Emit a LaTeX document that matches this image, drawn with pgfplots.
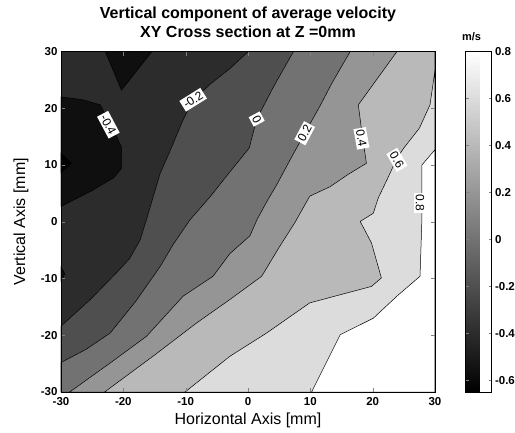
\documentclass[border=0pt]{standalone}
\usepackage{fontspec}
\setmainfont{Liberation Sans}
\usepackage{pgfplots}
\pgfplotsset{compat=1.18}
\definecolor{lv0}{gray}{0.0}
\definecolor{lv1}{gray}{0.06}
\definecolor{lv2}{gray}{0.172}
\definecolor{lv3}{gray}{0.31}
\definecolor{lv4}{gray}{0.448}
\definecolor{lv5}{gray}{0.586}
\definecolor{lv6}{gray}{0.724}
\definecolor{lv7}{gray}{0.862}
\definecolor{lv8}{gray}{1.0}
\tikzset{lab/.style={fill=white, inner sep=2pt, font=\fontsize{12}{14}\selectfont}}
\begin{document}
\begin{tikzpicture}
\begin{axis}[name=main, scale only axis, width=374pt, height=340.5pt,
  xmin=-30, xmax=30, ymin=-30, ymax=30,
  xtick={-30,-20,-10,0,10,20,30}, ytick={-30,-20,-10,0,10,20,30},
  tick align=inside, major tick length=4pt,
  axis on top, axis background/.style={fill=lv2},
  /pgf/number format/assume math mode=true,
  tick label style={font=\bfseries\fontsize{11.5}{13}\selectfont},
  xticklabel style={yshift=-2pt},
  title={Vertical component of average velocity\\XY Cross section at Z =0mm},
  title style={align=center, font=\bfseries\fontsize{16}{19}\selectfont, at={(0.5,1)}, anchor=south, inner sep=0pt, yshift=8pt},
  xlabel={Horizontal Axis [mm]},
  xlabel style={font=\fontsize{16}{19}\selectfont, at={(axis description cs:0.5,-0.084)}, anchor=center},
  ylabel={Vertical Axis [mm]},
  ylabel style={font=\fontsize{16}{19}\selectfont, at={(axis description cs:-0.107,0.5)}, anchor=center},
  colorbar, colormap/blackwhite, point meta min=-0.65, point meta max=0.8,
  colorbar style={at={(parent axis.north east)}, anchor=north west, xshift=22pt, width=26pt,
    ytick={-0.6,-0.4,-0.2,0,0.2,0.4,0.6,0.8},
    tick align=inside, major tick length=3pt,
    /pgf/number format/assume math mode=true,
    yticklabel style={font=\bfseries\fontsize{11.5}{13}\selectfont},
    title={m/s}, title style={font=\bfseries\fontsize{11}{13}\selectfont, at={(0.5,1)}, anchor=south, inner sep=0pt, xshift=-7pt, yshift=5pt}}
]
% regions below -0.4
\addplot[fill=lv1, draw=black, line width=0.5pt] coordinates {(-30,22) (-26.5,21.5) (-23.7,20.6) (-22,17) (-20.3,13.2) (-20.3,9.4) (-21.5,7.8) (-25,5.5) (-30,2.7)} -- cycle;
\addplot[fill=lv1, draw=black, line width=0.5pt] coordinates {(-22.9,30) (-20.3,23.2) (-15.4,30)} -- cycle;
\addplot[fill=lv1, draw=black, line width=0.5pt] coordinates {(-30,-7.9) (-29.4,-9.2) (-30,-10.5)} -- cycle;
% region below -0.6
\addplot[fill=lv0, draw=black, line width=0.5pt] coordinates {(-30,12.1) (-28.3,10.3) (-30,8.6)} -- cycle;
% above -0.2
\addplot[fill=lv3, draw=black, line width=0.5pt] coordinates {(0.05,30) (-2.9,27) (-6,24.3) (-8.8,21.5) (-10.4,18) (-12.5,12.5) (-14.1,8.5) (-16.3,0.35) (-17.3,-3.2) (-19,-6.5) (-21.1,-9) (-25.3,-13.7) (-30,-18.4) (-30,-30) (30,-30) (30,30)} -- cycle;
% above 0
\addplot[fill=lv4, draw=black, line width=0.5pt] coordinates {(7.3,30) (4.1,23.8) (1.4,18.1) (0.2,13) (-2.9,8.8) (-6,4.5) (-9.3,0.35) (-12,-4) (-14.1,-7.9) (-18,-14) (-22.1,-19.6) (-26,-22.5) (-30,-24.8) (-30,-30) (30,-30) (30,30)} -- cycle;
% above 0.2
\addplot[fill=lv5, draw=black, line width=0.5pt] coordinates {(16.4,30) (13.5,24.5) (11.5,20.3) (9.1,15.6) (6.8,11) (4.6,6.5) (3.2,3.9) (1.5,0.5) (0.3,-2.5) (-2.9,-5.6) (-5.6,-9.6) (-10.4,-13.1) (-16.3,-20.2) (-22,-24.8) (-28.6,-30) (30,-30) (30,30)} -- cycle;
% above 0.4
\addplot[fill=lv6, draw=black, line width=0.5pt] coordinates {(23.9,30) (20.8,25.3) (17.7,20.6) (18.3,15.5) (19,10.3) (16,8.3) (13.2,6.2) (9.9,4.5) (7.6,0) (5,-4.5) (2.2,-9.6) (-2.9,-13.7) (-8.2,-17.8) (-15,-23.5) (-23,-30) (30,-30) (30,30)} -- cycle;
% above 0.6
\addplot[fill=lv7, draw=black, line width=0.5pt] coordinates {(30,26.7) (29.2,20.6) (27.5,16.5) (25,13) (23.9,11.2) (22.3,7.4) (20.9,4.2) (20.1,1.5) (18,0.05) (19.8,-3.7) (21.4,-9.9) (19.8,-11.4) (15,-12.8) (9.9,-14.3) (3,-19.6) (-2.9,-23.7) (-10.1,-30) (30,-30)} -- cycle;
% above 0.8
\addplot[fill=lv8, draw=black, line width=0.5pt] coordinates {(30,12.7) (27.9,10) (27.9,0.35) (27.6,-9.6) (24,-13) (20.1,-17) (14.8,-19.9) (10.2,-30) (30,-30)} -- cycle;
% contour labels
\node[lab, rotate=-62] at (axis cs:-22.4,17.1) {-0.4};
\node[lab, rotate=32] at (axis cs:-8.8,21.5) {-0.2};
\node[lab, rotate=-62] at (axis cs:1.4,18.1) {0};
\node[lab, rotate=62] at (axis cs:9.1,15.6) {0.2};
\node[lab, rotate=-80] at (axis cs:18.2,14.7) {0.4};
\node[lab, rotate=-60] at (axis cs:23.9,10.9) {0.6};
\node[lab, rotate=-90] at (axis cs:27.6,3.3) {0.8};
\end{axis}
\pgfresetboundingbox
\path[use as bounding box] ([xshift=-61pt,yshift=-40pt]main.south west) rectangle ++(515pt,432pt);
\end{tikzpicture}
\end{document}
